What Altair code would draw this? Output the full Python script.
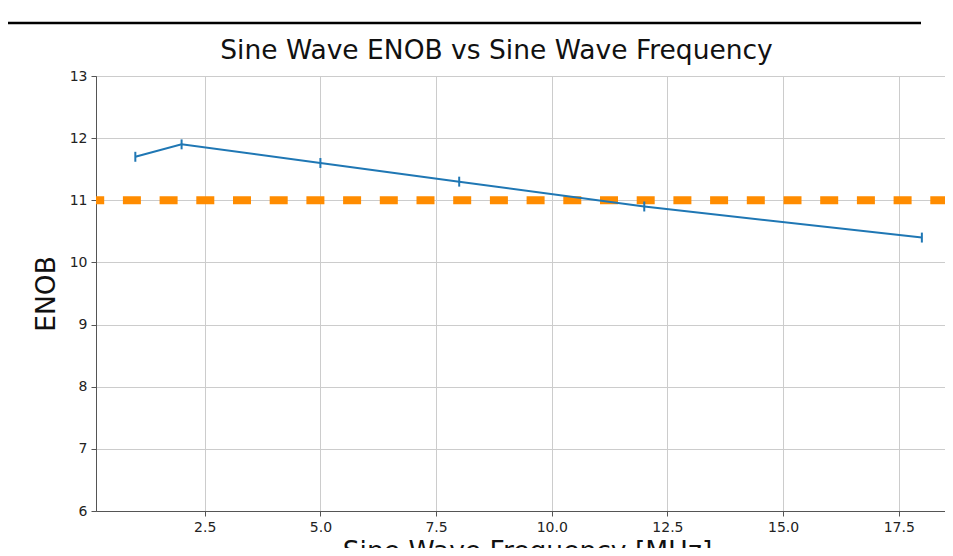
import altair as alt
import pandas as pd

# data
freq = [1, 2, 5, 8, 12, 18]
enob = [11.7, 11.9, 11.6, 11.3, 10.9, 10.4]
err = [0.08, 0.08, 0.08, 0.08, 0.08, 0.08]
threshold = [11]
x_ticks = [2.5, 5.0, 7.5, 10.0, 12.5, 15.0, 17.5]
y_ticks = [6, 7, 8, 9, 10, 11, 12, 13]

df = pd.DataFrame({
    "f": freq,
    "enob": enob,
    "lo": [v - e for v, e in zip(enob, err)],
    "hi": [v + e for v, e in zip(enob, err)],
})
thr = pd.DataFrame({"t": threshold})
deco = pd.DataFrame({"d": [0]})

FONT = "DejaVu Sans"

xenc = alt.X(
    "f:Q",
    scale=alt.Scale(domain=[0.15, 18.5], nice=False, zero=False),
    axis=alt.Axis(values=x_ticks, format=".1f", title="Sine Wave Frequency [MHz]",
                  titlePadding=4, labelPadding=4, titleX=431),
)
yscale = alt.Scale(domain=[6, 13], nice=False, zero=False)
yaxis = alt.Axis(values=y_ticks, format="d", title="ENOB", titlePadding=9, labelPadding=4)

orange = alt.Chart(thr).mark_rule(
    color="#ff8c00", strokeWidth=8, strokeDash=[18, 18.7], strokeDashOffset=3.3
).encode(y=alt.Y("t:Q", scale=yscale, axis=yaxis))

line = alt.Chart(df).mark_line(color="#1f77b4", strokeWidth=2).encode(
    x=xenc, y=alt.Y("enob:Q", scale=yscale, axis=yaxis)
)

errbars = alt.Chart(df).mark_rule(color="#1f77b4", strokeWidth=2).encode(
    x=alt.X("f:Q"), y=alt.Y("lo:Q"), y2="hi:Q"
)

topline = alt.Chart(deco).mark_rule(color="black", strokeWidth=2.5).encode(
    x=alt.value(-96), x2=alt.value(825), y=alt.value(-53)
)

chart = alt.layer(orange, line, errbars, topline).properties(
    width=849,
    height=435,
    background="white",
    title=alt.TitleParams(
        "Sine Wave ENOB vs Sine Wave Frequency",
        fontSize=26.5, fontWeight="normal", font=FONT, color="#111",
        offset=12, dx=-24, dy=55, frame="group",
    ),
    autosize=alt.AutoSizeParams(type="none"),
    padding={"left": 88, "top": 68, "right": 0, "bottom": 37},
).configure_view(
    stroke="#777", strokeWidth=1
).configure_axis(
    labelFont=FONT, titleFont=FONT, labelFontSize=14, titleFontSize=26.5,
    titleFontWeight="normal", labelColor="#222", titleColor="#111",
    domainColor="#555", tickColor="#555", tickSize=5,
    gridColor="#cccccc", gridWidth=1,
)

chart.save("out.html", embed_options={"renderer": "svg", "actions": False})
